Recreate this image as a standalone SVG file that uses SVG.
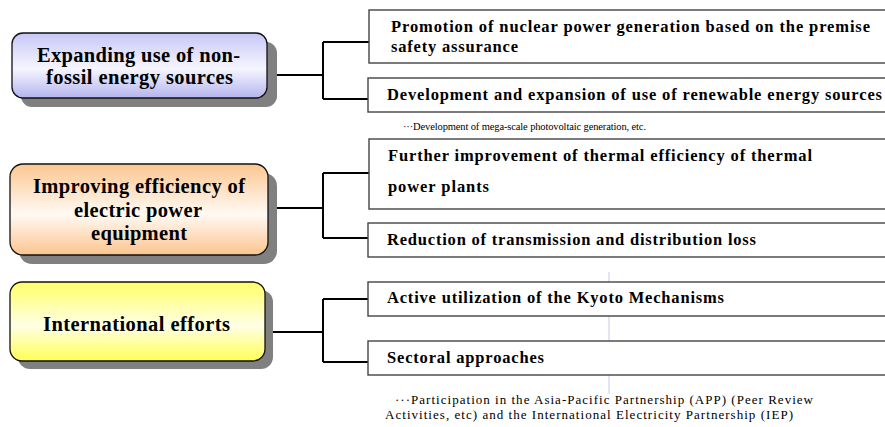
<svg xmlns="http://www.w3.org/2000/svg" width="885" height="427" viewBox="0 0 885 427">
<defs>
<linearGradient id="gBlue" x1="0" y1="0" x2="0" y2="1">
<stop offset="0" stop-color="#c6c6f6"/><stop offset="0.55" stop-color="#f6f6ff"/><stop offset="1" stop-color="#b4b4ee"/>
</linearGradient>
<linearGradient id="gOrange" x1="0" y1="0" x2="0" y2="1">
<stop offset="0" stop-color="#fcc690"/><stop offset="0.55" stop-color="#fffaf4"/><stop offset="1" stop-color="#fcc48e"/>
</linearGradient>
<linearGradient id="gYellow" x1="0" y1="0" x2="0" y2="1">
<stop offset="0" stop-color="#ffff66"/><stop offset="0.55" stop-color="#ffffe6"/><stop offset="1" stop-color="#ffff55"/>
</linearGradient>
<style>
.sh{fill:#808080}
.main{stroke:#111;stroke-width:1.3}
.sub{fill:#fff;stroke:#444;stroke-width:1.4}
.con{fill:none;stroke:#000;stroke-width:2}
text{font-family:'Liberation Serif','Times New Roman',serif;fill:#000}
.lt{font-weight:bold;font-size:20.5px}
.rt{font-weight:bold;font-size:16.5px}
.nt{font-size:10.5px}
.nt2{font-size:13px}
</style>
</defs>
<rect width="885" height="427" fill="#fff"/>
<line x1="609" y1="272" x2="609" y2="394" stroke="#c8c8f0" stroke-width="1"/>

<g id="connectors">
<path class="con" d="M277 75H323M323 42V99M323 42H369M323 99H369"/>
<path class="con" d="M277 208H323M323 173V238M323 173H369M323 238H369"/>
<path class="con" d="M273 332H323M323 299V362M323 299H368M323 362H368"/>
</g>

<g id="n-nonfossil">
<rect class="sh" x="21" y="42" width="256" height="65" rx="11"/>
<rect class="main" x="12" y="33" width="255" height="65" rx="11" fill="url(#gBlue)"/>
<text class="lt" x="37" y="62" textLength="203" lengthAdjust="spacing">Expanding use of non-</text>
<text class="lt" x="46" y="84" textLength="187" lengthAdjust="spacing">fossil energy sources</text>
</g>

<g id="n-efficiency">
<rect class="sh" x="19" y="173" width="258" height="91" rx="13"/>
<rect class="main" x="10" y="164" width="258" height="91" rx="13" fill="url(#gOrange)"/>
<text class="lt" x="33" y="193" textLength="212" lengthAdjust="spacing">Improving efficiency of</text>
<text class="lt" x="74" y="217" textLength="128" lengthAdjust="spacing">electric power</text>
<text class="lt" x="91" y="240" textLength="96" lengthAdjust="spacing">equipment</text>
</g>

<g id="n-international">
<rect class="sh" x="18" y="290" width="255" height="79" rx="12"/>
<rect class="main" x="10" y="282" width="255" height="79" rx="12" fill="url(#gYellow)"/>
<text class="lt" x="43" y="331" textLength="187" lengthAdjust="spacing">International efforts</text>
</g>

<g id="n-nuclear">
<rect class="sub" x="369" y="10" width="530" height="53"/>
<text class="rt" x="391" y="32" textLength="479" lengthAdjust="spacing">Promotion of nuclear power generation based on the premise</text>
<text class="rt" x="391" y="52" textLength="127" lengthAdjust="spacing">safety assurance</text>
</g>

<g id="n-renewable">
<rect class="sub" x="368" y="78" width="530" height="34"/>
<text class="rt" x="387" y="100" textLength="495" lengthAdjust="spacing">Development and expansion of use of renewable energy sources</text>
<text class="nt" x="403" y="130" textLength="243" lengthAdjust="spacing">···Development of mega-scale photovoltaic generation, etc.</text>
</g>

<g id="n-thermal">
<rect class="sub" x="369" y="139" width="530" height="70"/>
<text class="rt" x="388" y="161" textLength="424" lengthAdjust="spacing">Further improvement of thermal efficiency of thermal</text>
<text class="rt" x="388" y="192" textLength="101" lengthAdjust="spacing">power plants</text>
</g>

<g id="n-loss">
<rect class="sub" x="368" y="223" width="530" height="34"/>
<text class="rt" x="387" y="245" textLength="369" lengthAdjust="spacing">Reduction of transmission and distribution loss</text>
</g>

<g id="n-kyoto">
<rect class="sub" x="368" y="282" width="530" height="34"/>
<text class="rt" x="387" y="303" textLength="337" lengthAdjust="spacing">Active utilization of the Kyoto Mechanisms</text>
</g>

<g id="n-sectoral">
<rect class="sub" x="368" y="341" width="530" height="34"/>
<text class="rt" x="387" y="363" textLength="157" lengthAdjust="spacing">Sectoral approaches</text>
<text class="nt2" x="395" y="404" textLength="418" lengthAdjust="spacing">···Participation in the Asia-Pacific Partnership (APP) (Peer Review</text>
<text class="nt2" x="385" y="419" textLength="408" lengthAdjust="spacing">Activities, etc) and the International Electricity Partnership (IEP)</text>
</g>
</svg>
